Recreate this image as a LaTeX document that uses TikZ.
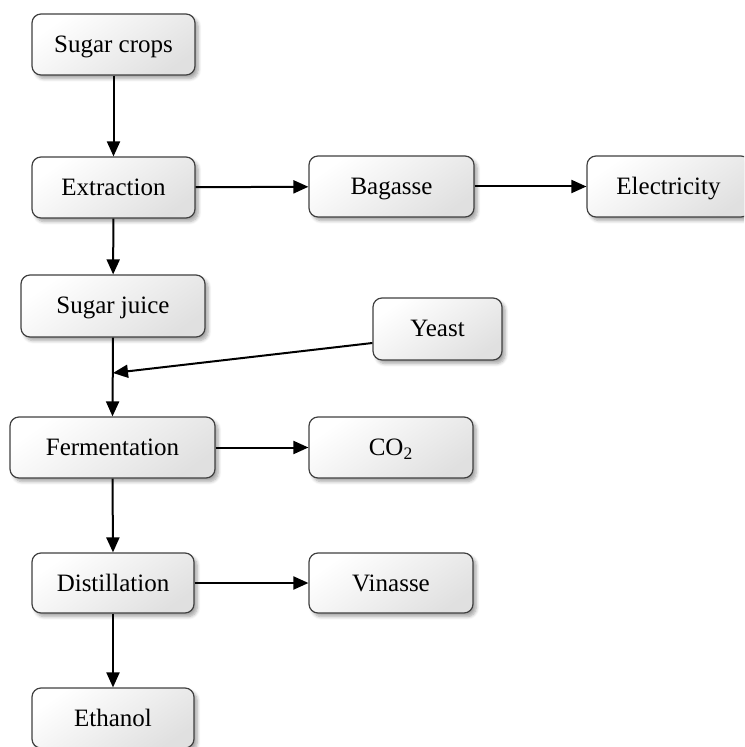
\documentclass[tikz,border=0pt]{standalone}
\usepackage{fontspec}
\setmainfont{Liberation Serif}
\usetikzlibrary{arrows.meta,shadows.blur}
\tikzset{
  stage/.style={
    draw=black!75, line width=0.6pt, rounded corners=4.5pt,
    top color=white, bottom color=black!12, shading angle=35,
    blur shadow={shadow xshift=1.6pt, shadow yshift=-1.8pt, shadow blur steps=6, shadow opacity=35, shadow blur radius=1.6pt},
    inner sep=0pt, align=center, text height=8pt, text depth=0pt,
    font=\fontsize{12.5}{14}\selectfont
  },
  flow/.style={line width=1pt, -{Triangle[length=7.5pt,width=6.5pt]}}
}
\begin{document}
\begin{tikzpicture}[x=0.5pt, y=-0.5pt]
\useasboundingbox (0,0) rectangle (744,747);
\clip (0,0) rectangle (744,747);
% process boxes
\node[stage, minimum width=81.5pt, minimum height=30.5pt] (crops)   at (113.5,44.5)  {Sugar crops};
\node[stage, minimum width=81.5pt, minimum height=30.5pt] (extract) at (113.5,187.5) {Extraction};
\node[stage, minimum width=82.5pt, minimum height=30.5pt] (bagasse) at (391.5,186.5) {Bagasse};
\node[stage, minimum width=81.5pt, minimum height=30.5pt] (elec)    at (668.5,186.5) {Electricity};
\node[stage, minimum width=92pt,   minimum height=31pt]   (juice)   at (113,306)     {Sugar juice};
\node[stage, minimum width=64.5pt, minimum height=31pt]   (yeast)   at (437.5,329)   {Yeast};
\node[stage, minimum width=102.5pt,minimum height=30.5pt] (ferment) at (112.5,447.5) {Fermentation};
\node[stage, minimum width=82pt,   minimum height=30.5pt] (co2)     at (391,447.5)   {CO\textsubscript{2}};
\node[stage, minimum width=81pt,   minimum height=30pt]   (distill) at (113,583)     {Distillation};
\node[stage, minimum width=82pt,   minimum height=30pt]   (vinasse) at (391,583)     {Vinasse};
\node[stage, minimum width=81pt,   minimum height=30pt]   (ethanol) at (113,718)     {Ethanol};
% junction where yeast joins the juice stream
\coordinate (mix) at (113,373);
% connectors
\draw[flow] (crops) -- (extract);
\draw[flow] (extract) -- (bagasse);
\draw[flow] (bagasse) -- (elec);
\draw[flow] (extract) -- (juice);
\draw[flow] (juice.south) -- (ferment.north);
\draw[flow] ([yshift=-7pt]yeast.west) -- (mix);
\draw[flow] (ferment) -- (co2);
\draw[flow] (ferment.south) -- (distill.north);
\draw[flow] (distill) -- (vinasse);
\draw[flow] (distill) -- (ethanol);
\end{tikzpicture}
\end{document}
